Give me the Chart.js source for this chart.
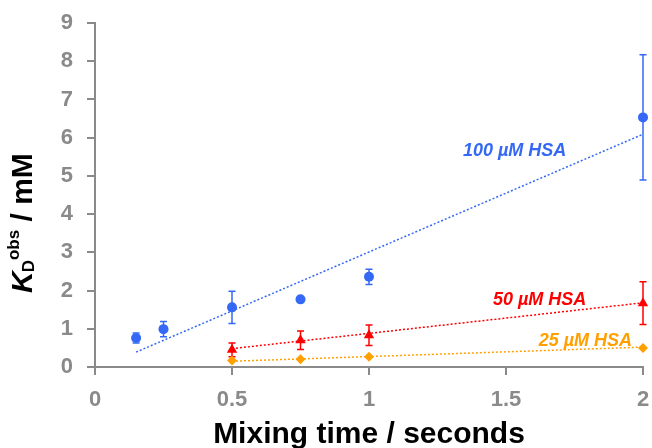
<!DOCTYPE html>
<html lang="en">
<head>
  <meta charset="UTF-8">
  <title>KD obs vs mixing time</title>
  <script src="https://cdn.jsdelivr.net/npm/chart.js"></script>
  <style>
    html, body { margin: 0; padding: 0; background: #fff; }
  </style>
</head>
<body>
  <canvas id="kdChart" width="652" height="448"></canvas>

  <script>
    // 100 uM HSA
    const times100 = [0.15, 0.25, 0.5, 0.75, 1, 2];
    const kd100 = [0.76, 0.99, 1.56, 1.77, 2.36, 6.53];
    const err100 = [0.13, 0.2, 0.42, 0.05, 0.2, 1.64];

    // 50 uM HSA
    const times50 = [0.5, 0.75, 1, 2];
    const kd50 = [0.45, 0.70, 0.83, 1.67];
    const err50 = [0.18, 0.24, 0.27, 0.56];

    // 25 uM HSA
    const times25 = [0.5, 0.75, 1, 2];
    const kd25 = [0.17, 0.20, 0.27, 0.50];
    const err25 = [0, 0, 0, 0];

    // linear trend lines, end points
    const fit100X = [0.15, 2];
    const fit100Y = [0.39, 6.09];
    const fit50X = [0.5, 2];
    const fit50Y = [0.48, 1.68];
    const fit25X = [0.5, 2];
    const fit25Y = [0.15, 0.52];

    const seriesNames = ['100 µM HSA', '50 µM HSA', '25 µM HSA'];
    const xTicks = [0, 0.5, 1, 1.5, 2];
    const yTicks = [0, 1, 2, 3, 4, 5, 6, 7, 8, 9];

    const BLUE = '#3569f5';
    const RED = '#ff0000';
    const ORANGE = '#ffa000';
    const AXIS = '#8a8a8a';

    const pts = (xs, ys) => xs.map((x, i) => ({ x: x, y: ys[i] }));

    // where the series names sit (data units, right edge / baseline)
    const nameAnchors = [
      { x: 1.72, y: 5.51, color: BLUE },
      { x: 1.793, y: 1.635, color: RED },
      { x: 1.96, y: 0.56, color: ORANGE }
    ];

    const errorBars = {
      id: 'errorBars',
      beforeDatasetsDraw(chart) {
        const ctx = chart.ctx;
        const xs = chart.scales.x, ys = chart.scales.y;
        chart.data.datasets.forEach(ds => {
          if (!ds.errors) return;
          ctx.save();
          ctx.strokeStyle = ds.errorColor;
          ctx.lineWidth = 1.5;
          ds.data.forEach((p, i) => {
            const e = ds.errors[i];
            if (!e) return;
            const px = xs.getPixelForValue(p.x);
            const top = ys.getPixelForValue(p.y + e);
            const bot = ys.getPixelForValue(p.y - e);
            ctx.beginPath();
            ctx.moveTo(px, top); ctx.lineTo(px, bot);
            ctx.moveTo(px - 3.5, top); ctx.lineTo(px + 3.5, top);
            ctx.moveTo(px - 3.5, bot); ctx.lineTo(px + 3.5, bot);
            ctx.stroke();
          });
          ctx.restore();
        });
      }
    };

    const textBits = {
      id: 'textBits',
      afterDraw(chart) {
        const ctx = chart.ctx;
        const xs = chart.scales.x, ys = chart.scales.y;
        ctx.save();
        // series names
        ctx.font = 'italic bold 18px "Liberation Sans", Arial, sans-serif';
        ctx.textAlign = 'right';
        ctx.textBaseline = 'alphabetic';
        nameAnchors.forEach((a, i) => {
          ctx.fillStyle = a.color;
          ctx.fillText(seriesNames[i], xs.getPixelForValue(a.x), ys.getPixelForValue(a.y));
        });

        // y axis title: K_D^obs / mM
        ctx.translate(32, 293);
        ctx.rotate(-Math.PI / 2);
        ctx.fillStyle = '#000';
        ctx.textAlign = 'left';
        let x = 0;
        ctx.font = 'italic bold 30px "Liberation Sans", Arial, sans-serif';
        ctx.fillText('K', x, 0);
        x += ctx.measureText('K').width - 1;
        ctx.font = 'bold 17px "Liberation Sans", Arial, sans-serif';
        ctx.fillText('D', x, 2);
        x += ctx.measureText('D').width;
        ctx.fillText('obs', x, -13);
        x += ctx.measureText('obs').width;
        ctx.font = 'bold 30px "Liberation Sans", Arial, sans-serif';
        ctx.fillText(' / mM', x, 0);
        ctx.restore();
      }
    };

    const tickFont = { family: '"Liberation Sans", Arial, sans-serif', size: 22, weight: 'bold' };
    const axisGrid = {
      drawOnChartArea: false, drawTicks: true, tickLength: 8,
      color: AXIS, lineWidth: 2
    };

    new Chart(document.getElementById('kdChart'), {
      type: 'scatter',
      data: {
        datasets: [
          {
            label: 'fit100', data: pts(fit100X, fit100Y), showLine: true,
            borderColor: BLUE, borderWidth: 1.5, borderDash: [2, 2], pointRadius: 0
          },
          {
            label: 'fit50', data: pts(fit50X, fit50Y), showLine: true,
            borderColor: RED, borderWidth: 1.5, borderDash: [2, 2], pointRadius: 0
          },
          {
            label: 'fit25', data: pts(fit25X, fit25Y), showLine: true,
            borderColor: ORANGE, borderWidth: 1.5, borderDash: [2, 2], pointRadius: 0
          },
          {
            label: seriesNames[0], data: pts(times100, kd100), errors: err100, errorColor: BLUE,
            pointStyle: 'circle', pointRadius: 5, backgroundColor: BLUE, borderColor: BLUE, borderWidth: 0, clip: false
          },
          {
            label: seriesNames[1], data: pts(times50, kd50), errors: err50, errorColor: RED,
            pointStyle: 'triangle', pointRadius: 6, backgroundColor: RED, borderColor: RED, borderWidth: 0, clip: false
          },
          {
            label: seriesNames[2], data: pts(times25, kd25), errors: err25, errorColor: ORANGE,
            pointStyle: 'rectRot', pointRadius: 5, backgroundColor: ORANGE, borderColor: ORANGE, borderWidth: 0, clip: false
          }
        ]
      },
      options: {
        responsive: false,
        animation: false,
        layout: { padding: { left: 0, right: 9, top: 23, bottom: 0 } },
        plugins: { legend: { display: false }, tooltip: { enabled: false } },
        scales: {
          x: {
            type: 'linear', min: 0, max: 2,
            afterBuildTicks: s => { s.ticks = xTicks.map(v => ({ value: v })); },
            afterFit: s => { s.height = 81; s.paddingLeft = 0; s.paddingRight = 0; },
            grid: axisGrid,
            border: { display: true, color: AXIS, width: 2 },
            ticks: { font: tickFont, color: AXIS, padding: 12, callback: v => String(v) },
            title: {
              display: true, text: 'Mixing time / seconds', color: '#000',
              font: { family: '"Liberation Sans", Arial, sans-serif', size: 30, weight: 'bold' },
              padding: { top: 0, bottom: -5 }
            }
          },
          y: {
            type: 'linear', min: 0, max: 9,
            afterBuildTicks: s => { s.ticks = yTicks.map(v => ({ value: v })); },
            afterFit: s => { s.width = 95; s.paddingTop = 0; s.paddingBottom = 0; },
            grid: axisGrid,
            border: { display: true, color: AXIS, width: 2 },
            ticks: { font: tickFont, color: AXIS, padding: 14, callback: v => String(v) }
          }
        }
      },
      plugins: [errorBars, textBits]
    });
  </script>
</body>
</html>
